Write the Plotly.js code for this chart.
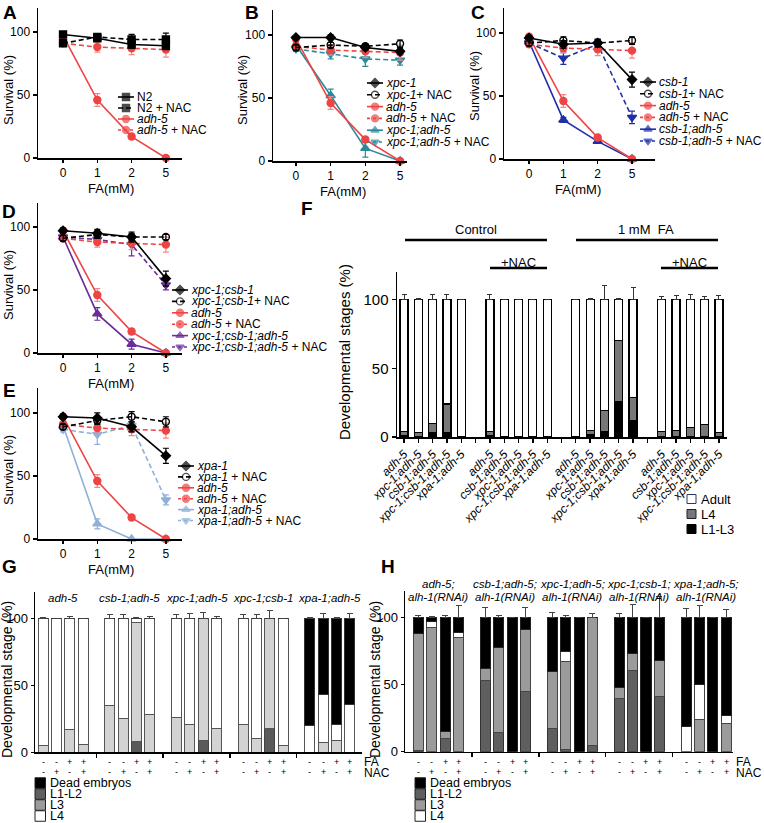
<!DOCTYPE html>
<html><head><meta charset="utf-8">
<script src="https://cdn.plot.ly/plotly-3.0.1.min.js"></script>
<style>html,body{margin:0;padding:0;background:#fff}#chart{width:764px;height:823px}</style>
</head><body><div id="chart"></div>
<script>
const W = 764, H = 823;
const FONT = 'Liberation Sans, Arial, Helvetica, sans-serif';

// ================= DATA =================
const FA_MM = ['0', '1', '2', '5'];
const ADH5 = [97, 46, 17, 0];
const ADH5_ERR = [2, 5, 2, 0];
const ADH5_NAC = [91, 88, 87, 86];
const ADH5_NAC_ERR = [2, 4, 5, 6];

const A_N2 = [98, 95, 90, 89];
const A_N2_ERR = [1, 2, 3, 3];
const A_N2_NAC = [91, 96, 94, 94];
const A_N2_NAC_ERR = [2, 2, 4, 5];

const B_XPC1 = [98, 98, 90, 87];
const B_XPC1_ERR = [1, 2, 2, 2];
const B_XPC1_NAC = [90, 92, 91, 93];
const B_XPC1_NAC_ERR = [2, 2, 2, 3];
const B_XPC1_ADH5 = [92, 52, 10, 0];
const B_XPC1_ADH5_ERR = [2, 5, 7, 0];
const B_XPC1_ADH5_NAC = [89, 85, 81, 80];
const B_XPC1_ADH5_NAC_ERR = [2, 4, 6, 4];

const C_CSB1 = [96, 91, 92, 63];
const C_CSB1_ERR = [2, 3, 3, 6];
const C_CSB1_NAC = [92, 94, 92, 94];
const C_CSB1_NAC_ERR = [2, 3, 3, 3];
const C_CSB1_ADH5 = [93, 31, 14, 0];
const C_CSB1_ADH5_ERR = [2, 2, 1, 0];
const C_CSB1_ADH5_NAC = [92, 80, 91, 33];
const C_CSB1_ADH5_NAC_ERR = [2, 5, 4, 5];

const D_XPC1_CSB1 = [97, 95, 92, 59];
const D_XPC1_CSB1_ERR = [2, 3, 4, 6];
const D_XPC1_CSB1_NAC = [91, 94, 92, 92];
const D_XPC1_CSB1_NAC_ERR = [2, 3, 3, 2];
const D_TRIPLE = [92, 31, 7, 0];
const D_TRIPLE_ERR = [2, 5, 4, 0];
const D_TRIPLE_NAC = [92, 90, 86, 54];
const D_TRIPLE_NAC_ERR = [2, 3, 9, 4];

const E_XPA1 = [97, 96, 89, 66];
const E_XPA1_ERR = [2, 4, 4, 6];
const E_XPA1_NAC = [89, 94, 97, 93];
const E_XPA1_NAC_ERR = [2, 3, 4, 4];
const E_XPA1_ADH5 = [90, 12, 0, 0];
const E_XPA1_ADH5_ERR = [2, 4, 0, 0];
const E_XPA1_ADH5_NAC = [87, 83, 90, 31];
const E_XPA1_ADH5_NAC_ERR = [2, 8, 5, 4];

// Panel F (4 groups of 5 strains)
const F_STRAINS = [
  'adh-5', 'xpc-1;adh-5', 'csb-1;adh-5', 'xpc-1;csb-1;adh-5', 'xpa-1;adh-5',
  'adh-5', 'csb-1;adh-5', 'xpc-1;adh-5', 'xpc-1;csb-1;adh-5', 'xpa-1;adh-5',
  'adh-5', 'xpc-1;adh-5', 'csb-1;adh-5', 'xpc-1;csb-1;adh-5', 'xpa-1;adh-5',
  'adh-5', 'csb-1;adh-5', 'xpc-1;adh-5', 'xpc-1;csb-1;adh-5', 'xpa-1;adh-5'];
const F_L1L3 = [1, 0.5, 3, 3, 0, 1, 0, 0, 0, 0, 0, 2, 4, 26, 12, 0.5, 0.5, 0.5, 0.5, 0.5];
const F_L1L3_ERR = [0, 0, 1, 1, 0, 0, 0, 0, 0, 0, 0, 0, 4, 6, 3, 0, 0, 0, 0, 0];
const F_L4 = [3, 2.5, 7, 21, 0, 3, 0, 0, 0, 0, 0, 3, 15, 44, 17, 3.5, 4.5, 6.5, 8.5, 3];
const F_L4_ERR = [5.5, 2, 5, 6.5, 0, 5.5, 0, 0, 0, 0, 0, 1, 13, 10, 10, 5, 5.5, 7.6, 3.4, 5.5];
const F_ADULT = [96, 97, 90, 76, 100, 96, 100, 100, 100, 100, 100, 95, 81, 30, 71, 96, 95, 93, 91, 96.5];
const F_ADULT_ERR = [4, 0.5, 3.5, 4, 0, 4, 0, 0, 0, 0, 0, 0.5, 10, 1, 9, 2.5, 3, 4, 2, 3];

// Panel G (5 strains x 4 conditions)
const G_STRAINS = ['adh-5', 'csb-1;adh-5', 'xpc-1;adh-5', 'xpc-1;csb-1', 'xpa-1;adh-5'];
const FA_SIGNS = ['-', '-', '+', '+'];
const NAC_SIGNS = ['-', '+', '-', '+'];
const G_L1L2 = [0, 0, 0, 0, 0, 0, 8, 0, 0, 0, 9, 0, 0, 0, 18, 0, 0, 0, 0, 0];
const G_L1L2_ERR = [0, 0, 0, 0, 0, 0, 2, 0, 0, 0, 2.5, 0, 0, 0, 3.5, 0, 0, 0, 0, 0];
const G_L3 = [5, 0, 17, 6, 35, 25, 89, 28, 26, 21, 91, 18, 21, 10, 82, 5, 0, 7, 9, 0];
const G_L3_ERR = [2, 0, 4, 1.5, 5, 5, 0, 3, 4, 7, 0, 3, 5, 5, 0, 1, 0, 7, 3, 0];
const G_L4 = [95, 100, 83, 94, 65, 75, 3, 72, 74, 79, 0, 82, 79, 90, 0, 95, 20, 36, 12, 36];
const G_DEAD = [0, 0, 0, 0, 0, 0, 0, 0, 0, 0, 0, 0, 0, 0, 0, 0, 80, 57, 79, 64];
const G_TOP_ERR = [1, 0, 2, 0.5, 3, 3, 1, 2, 3, 4, 5, 2, 3, 3.5, 6, 0.5, 1, 4, 1, 4];

// Panel H
const H_STRAINS = [['adh-5;', 'alh-1(RNAi)'], ['csb-1;adh-5;', 'alh-1(RNAi)'], ['xpc-1;adh-5;', 'alh-1(RNAi)'],
                   ['xpc-1;csb-1;', 'alh-1(RNAi)'], ['xpa-1;adh-5;', 'alh-1(RNAi)']];
const H_L1L2 = [1, 0, 10, 0, 53, 14, 0, 45, 17, 2, 0, 5, 40, 61, 0, 41, 0, 0, 0, 0];
const H_L1L2_ERR = [2, 0, 3.5, 0, 8, 2.5, 0, 3.5, 5, 2.5, 0, 3, 2.5, 5, 0, 12, 0, 0, 0, 0];
const H_L3 = [87, 93, 5, 85, 9, 64, 0, 46, 43, 65, 0, 95, 8, 12, 0, 27, 0, 24, 0, 21];
const H_L3_ERR = [0, 0, 2, 0, 0, 0, 0, 0, 0, 3.5, 0, 0, 0, 0, 0, 0, 0, 5.5, 0, 5];
const H_L4 = [0, 4, 0, 4, 0, 0, 0, 0, 0, 8, 0, 0, 0, 0, 0, 0, 19, 26, 0, 6];
const H_DEAD = [12, 3, 85, 11, 38, 22, 100, 9, 40, 25, 100, 0, 52, 27, 100, 32, 81, 50, 100, 73];
const H_TOP_ERR = [1.5, 1, 1.5, 9, 8, 2, 0, 8, 4, 2, 0, 3, 3, 10, 0, 16, 7, 9, 0, 6];

// ================= STYLES =================
const BLACK = '#000000', RED = '#ee4444', RED_ERR = '#f08a8a';
const TEAL = '#2a8a9a', BLUE = '#1f2fa8', PURPLE = '#6a2c9c', LBLUE = '#8fb0d8';
const DASH = '5px,3px';

const PANELS = [
  {ax: '', legend: {x0: 118, x1: 134, y0: 97, dy: 11}, series: [
    {y: A_N2, err: A_N2_ERR, name: 'N2', color: BLACK, dash: 'solid', symbol: 'square'},
    {y: A_N2_NAC, err: A_N2_NAC_ERR, name: 'N2 + NAC', color: BLACK, dash: DASH, symbol: 'square'},
    {y: ADH5, err: ADH5_ERR, name: '<i>adh-5</i>', color: RED, ec: RED_ERR, dash: 'solid', symbol: 'circle'},
    {y: ADH5_NAC, err: ADH5_NAC_ERR, name: '<i>adh-5</i> + NAC', color: RED, ec: RED_ERR, dash: DASH, ldash: 'dot', symbol: 'circle'}]},
  {ax: '2', legend: {x0: 367, x1: 383, y0: 83, dy: 11.8}, series: [
    {y: B_XPC1, err: B_XPC1_ERR, name: '<i>xpc-1</i>', color: BLACK, dash: 'solid', symbol: 'diamond'},
    {y: B_XPC1_NAC, err: B_XPC1_NAC_ERR, name: '<i>xpc-1</i>+ NAC', color: BLACK, dash: DASH, symbol: 'circle-open'},
    {y: ADH5, err: ADH5_ERR, name: '<i>adh-5</i>', color: RED, ec: RED_ERR, dash: 'solid', symbol: 'circle'},
    {y: ADH5_NAC, err: ADH5_NAC_ERR, name: '<i>adh-5</i> + NAC', color: RED, ec: RED_ERR, dash: DASH, ldash: 'dot', symbol: 'circle'},
    {y: B_XPC1_ADH5, err: B_XPC1_ADH5_ERR, name: '<i>xpc-1;adh-5</i>', color: TEAL, dash: 'solid', symbol: 'triangle-up'},
    {y: B_XPC1_ADH5_NAC, err: B_XPC1_ADH5_NAC_ERR, name: '<i>xpc-1;adh-5</i> + NAC', color: TEAL, dash: DASH, ldash: 'dot', symbol: 'triangle-down'}]},
  {ax: '3', legend: {x0: 640, x1: 656, y0: 82, dy: 11.8}, series: [
    {y: C_CSB1, err: C_CSB1_ERR, name: '<i>csb-1</i>', color: BLACK, dash: 'solid', symbol: 'diamond'},
    {y: C_CSB1_NAC, err: C_CSB1_NAC_ERR, name: '<i>csb-1</i>+ NAC', color: BLACK, dash: DASH, symbol: 'circle-open'},
    {y: ADH5, err: ADH5_ERR, name: '<i>adh-5</i>', color: RED, ec: RED_ERR, dash: 'solid', symbol: 'circle'},
    {y: ADH5_NAC, err: ADH5_NAC_ERR, name: '<i>adh-5</i> + NAC', color: RED, ec: RED_ERR, dash: DASH, ldash: 'dot', symbol: 'circle'},
    {y: C_CSB1_ADH5, err: C_CSB1_ADH5_ERR, name: '<i>csb-1;adh-5</i>', color: BLUE, dash: 'solid', symbol: 'triangle-up'},
    {y: C_CSB1_ADH5_NAC, err: C_CSB1_ADH5_NAC_ERR, name: '<i>csb-1;adh-5</i> + NAC', color: BLUE, dash: DASH, ldash: 'dot', symbol: 'triangle-down'}]},
  {ax: '4', legend: {x0: 172, x1: 188, y0: 290, dy: 11.4}, series: [
    {y: D_XPC1_CSB1, err: D_XPC1_CSB1_ERR, name: '<i>xpc-1;csb-1</i>', color: BLACK, dash: 'solid', symbol: 'diamond'},
    {y: D_XPC1_CSB1_NAC, err: D_XPC1_CSB1_NAC_ERR, name: '<i>xpc-1;csb-1</i>+ NAC', color: BLACK, dash: DASH, symbol: 'circle-open'},
    {y: ADH5, err: ADH5_ERR, name: '<i>adh-5</i>', color: RED, ec: RED_ERR, dash: 'solid', symbol: 'circle'},
    {y: ADH5_NAC, err: ADH5_NAC_ERR, name: '<i>adh-5</i> + NAC', color: RED, ec: RED_ERR, dash: DASH, ldash: 'dot', symbol: 'circle'},
    {y: D_TRIPLE, err: D_TRIPLE_ERR, name: '<i>xpc-1;csb-1;adh-5</i>', color: PURPLE, dash: 'solid', symbol: 'triangle-up'},
    {y: D_TRIPLE_NAC, err: D_TRIPLE_NAC_ERR, name: '<i>xpc-1;csb-1;adh-5</i> + NAC', color: PURPLE, dash: DASH, ldash: 'dot', symbol: 'triangle-down'}]},
  {ax: '5', legend: {x0: 178, x1: 194, y0: 466, dy: 10.9}, series: [
    {y: E_XPA1, err: E_XPA1_ERR, name: '<i>xpa-1</i>', color: BLACK, dash: 'solid', symbol: 'diamond'},
    {y: E_XPA1_NAC, err: E_XPA1_NAC_ERR, name: '<i>xpa-1</i> + NAC', color: BLACK, dash: DASH, symbol: 'circle-open'},
    {y: ADH5, err: ADH5_ERR, name: '<i>adh-5</i>', color: RED, ec: RED_ERR, dash: 'solid', symbol: 'circle'},
    {y: ADH5_NAC, err: ADH5_NAC_ERR, name: '<i>adh-5</i> + NAC', color: RED, ec: RED_ERR, dash: DASH, ldash: 'dot', symbol: 'circle'},
    {y: E_XPA1_ADH5, err: E_XPA1_ADH5_ERR, name: '<i>xpa-1;adh-5</i>', color: LBLUE, dash: 'solid', symbol: 'triangle-up'},
    {y: E_XPA1_ADH5_NAC, err: E_XPA1_ADH5_NAC_ERR, name: '<i>xpa-1;adh-5</i> + NAC', color: LBLUE, dash: DASH, ldash: 'dot', symbol: 'triangle-down'}]}
];

// ================= LAYOUT HELPERS =================
const traces = [];
const annotations = [];
const shapes = [];
const dX = (a, b) => [a / W, b / W];
const dY = (top, bottom) => [1 - bottom / H, 1 - top / H];

function txt(x, y, text, size, extra) {
  annotations.push(Object.assign({xref: 'x9', yref: 'y9', x: x, y: y, text: text, showarrow: false,
    xanchor: 'center', yanchor: 'middle', font: {family: FONT, size: size || 12, color: '#000'}}, extra || {}));
}
function hline(x0, x1, y, w) {
  shapes.push({type: 'line', xref: 'x9', yref: 'y9', x0: x0, x1: x1, y0: y, y1: y, line: {color: '#000', width: w || 2.5}});
}
function square(x0, y0, s, fill, lc) {
  shapes.push({type: 'rect', xref: 'x9', yref: 'y9', x0: x0, x1: x0 + s, y0: y0 - s / 2, y1: y0 + s / 2,
    fillcolor: fill, line: {color: lc || '#222', width: 1}});
}
const nz = arr => arr.map(v => (v ? v : NaN));

const baseAxis = {showline: true, linecolor: '#000', linewidth: 1.5, ticks: 'outside', tickcolor: '#000',
  tickwidth: 1.3, showgrid: false, zeroline: false, fixedrange: true};

const layout = {
  width: W, height: H, margin: {l: 0, r: 0, t: 0, b: 0},
  paper_bgcolor: '#ffffff', plot_bgcolor: 'rgba(0,0,0,0)',
  barmode: 'stack', bargap: 0, showlegend: false,
  font: {family: FONT, size: 12, color: '#000'}
};

// Line-plot panels geometry
const LINE_GEOM = {
  '':  {x: [38, 182], xr: [-0.73, 3.47], y: [8, 158], yr: [0, 119]},
  '2': {x: [273, 407], xr: [-0.66, 3.2], y: [10, 161], yr: [0, 119.8]},
  '3': {x: [504, 655], xr: [-0.73, 3.67], y: [8, 159], yr: [0, 119.8]},
  '4': {x: [38, 182], xr: [-0.73, 3.47], y: [203, 353], yr: [0, 119]},
  '5': {x: [38, 182], xr: [-0.73, 3.47], y: [388, 539], yr: [0, 119.8]}
};

PANELS.forEach(p => {
  const g = LINE_GEOM[p.ax];
  const xa = 'xaxis' + p.ax, ya = 'yaxis' + p.ax;
  layout[xa] = Object.assign({}, baseAxis, {domain: dX(g.x[0], g.x[1]), range: g.xr, type: 'category',
    anchor: 'y' + p.ax, ticklen: 3, tickfont: {size: 12}, categoryorder: 'array', categoryarray: FA_MM});
  layout[ya] = Object.assign({}, baseAxis, {domain: dY(g.y[0], g.y[1]), range: g.yr, anchor: 'x' + p.ax,
    ticklen: 4, tickmode: 'array', tickvals: [0, 50, 100], tickfont: {size: 12}});
  p.series.slice().reverse().forEach(s => {
    traces.push({type: 'scatter', mode: 'lines+markers', x: FA_MM, y: s.y, xaxis: 'x' + p.ax, yaxis: 'y' + p.ax,
      line: {color: s.color, width: 1.6, dash: s.dash},
      marker: {symbol: s.symbol, size: s.symbol.indexOf('triangle') === 0 ? 8 : 7, color: s.color,
        line: {color: s.color, width: 1.4}},
      error_y: {type: 'data', array: nz(s.err), color: s.ec || s.color, thickness: 1.2, width: 3},
      cliponaxis: false, showlegend: false, hoverinfo: 'skip'});
  });
  // legend
  const L = p.legend;
  p.series.forEach((s, i) => {
    const y = L.y0 + i * L.dy;
    traces.push({type: 'scatter', mode: 'lines+markers', x: [L.x0, (L.x0 + L.x1) / 2, L.x1], y: [y, y, y],
      xaxis: 'x9', yaxis: 'y9', line: {color: s.color, width: 1.6, dash: s.ldash || s.dash},
      marker: {symbol: s.symbol, size: [0, 7, 0], color: s.color, line: {color: s.color, width: 1.4}},
      cliponaxis: false, showlegend: false, hoverinfo: 'skip'});
    txt(L.x1 + 1, y, s.name, 12, {xanchor: 'left'});
  });
});

// line panel titles
[[8, 90], [242, 90], [474, 86], [8, 285], [8, 470]].forEach(c =>
  txt(c[0], c[1], 'Survival (%)', 13, {textangle: -90}));
[[111, 188], [343, 191], [578, 189], [111, 383], [111, 569]].forEach(c => txt(c[0], c[1], 'FA(mM)', 13));

// ================= PANEL F =================
const fPos = F_STRAINS.map((_, i) => i + Math.floor(i / 5));
const fTickVals = [], fTickText = [];
for (let v = 0; v <= 22; v++) {
  fTickVals.push(v);
  const k = fPos.indexOf(v);
  fTickText.push(k >= 0 ? '<i>' + F_STRAINS[k] + '</i>' : '');
}
layout.xaxis6 = Object.assign({}, baseAxis, {domain: dX(397, 727), range: [-0.49, 22.56], anchor: 'y6',
  tickmode: 'array', tickvals: fTickVals, ticktext: fTickText, ticklen: 4, tickangle: -45, tickfont: {size: 12}});
layout.yaxis6 = Object.assign({}, baseAxis, {domain: dY(272, 437), range: [0, 120], anchor: 'x6',
  tickmode: 'array', tickvals: [0, 50, 100], ticklen: 4, tickfont: {size: 15}});
function fBar(y, err, color) {
  return {type: 'bar', x: fPos, y: y, xaxis: 'x6', yaxis: 'y6', width: 0.56,
    marker: {color: color, line: {color: '#000', width: 1.2}},
    error_y: {type: 'data', array: nz(err), arrayminus: y.map(() => 0), symmetric: false, color: '#333', thickness: 1, width: 2.5},
    showlegend: false, hoverinfo: 'skip'};
}
traces.push(fBar(F_L1L3, F_L1L3_ERR, '#000000'));
traces.push(fBar(F_L4, F_L4_ERR, '#777777'));
traces.push(fBar(F_ADULT, F_ADULT_ERR, '#ffffff'));
txt(344, 352, 'Developmental stages (%)', 15, {textangle: -90});
txt(476, 229, 'Control', 13); hline(405, 547, 240);
txt(646, 229, '1 mM  FA', 13); hline(576, 718, 240);
txt(518, 262, '+NAC', 13); hline(490, 547, 268);
txt(689, 262, '+NAC', 13); hline(661, 718, 268);
[['Adult', '#ffffff', '#2a3a5a'], ['L4', '#777777', '#222'], ['L1-L3', '#000000', '#000']].forEach((e, i) => {
  const y = 499 + i * 15;
  square(687, y, 9, e[1], e[2]);
  txt(699, y, e[0], 13, {xanchor: 'left'});
});

// ================= PANELS G & H =================
const gPos = G_L3.map((_, i) => i + Math.floor(i / 4));
function stackBar(ax, y, err, color, lc) {
  return {type: 'bar', x: gPos, y: y, xaxis: 'x' + ax, yaxis: 'y' + ax, width: 0.75,
    marker: {color: color, line: {color: lc, width: 1}},
    error_y: {type: 'data', array: nz(err), arrayminus: y.map(() => 0), symmetric: false, color: '#444', thickness: 1, width: 3},
    showlegend: false, hoverinfo: 'skip'};
}
const GAP_TICKS = [4, 9, 14, 19];
function stageAxes(ax, xd, xr, yd) {
  layout['xaxis' + ax] = Object.assign({}, baseAxis, {domain: dX(xd[0], xd[1]), range: xr, anchor: 'y' + ax,
    tickmode: 'array', tickvals: GAP_TICKS, showticklabels: false, ticklen: 4});
  layout['yaxis' + ax] = Object.assign({}, baseAxis, {domain: dY(yd[0], yd[1]), range: [0, 120], anchor: 'x' + ax,
    tickmode: 'array', tickvals: [0, 50, 100], ticklen: 3, tickfont: {size: 13}});
}
stageAxes('7', [35, 362], [-0.6, 23.9], [592, 752.3]);
stageAxes('8', [405, 733], [-1, 23.5], [591, 751.7]);

traces.push(stackBar('7', G_L1L2, G_L1L2_ERR, '#5a5a5a', '#444'));
traces.push(stackBar('7', G_L3, G_L3_ERR, '#d3d3d3', '#555'));
traces.push(stackBar('7', G_L4, [], '#ffffff', '#555'));
traces.push(stackBar('7', G_DEAD, G_TOP_ERR, '#000000', '#333'));

traces.push(stackBar('8', H_L1L2, H_L1L2_ERR, '#5f5f5f', '#333'));
traces.push(stackBar('8', H_L3, H_L3_ERR, '#9b9b9b', '#444'));
traces.push(stackBar('8', H_L4, [], '#ffffff', '#444'));
traces.push(stackBar('8', H_DEAD, H_TOP_ERR, '#000000', '#222'));

// group titles, +/- rows
G_STRAINS.forEach((s, k) => {
  annotations.push({xref: 'x7', yref: 'y9', x: k * 5 + 1.5, y: 598, text: '<i>' + s + '</i>', showarrow: false,
    font: {family: FONT, size: 11.5, color: '#000'}});
});
H_STRAINS.forEach((s, k) => {
  s.forEach((line, j) => annotations.push({xref: 'x8', yref: 'y9', x: k * 5 + 1.5, y: 584 + j * 12.5,
    text: '<i>' + line + '</i>', showarrow: false, font: {family: FONT, size: 11.5, color: '#000'}}));
});
['7', '8'].forEach(ax => {
  gPos.forEach((x, i) => {
    annotations.push({xref: 'x' + ax, yref: 'y9', x: x, y: 762, text: FA_SIGNS[i % 4], showarrow: false,
      font: {family: FONT, size: 9, color: '#000'}});
    annotations.push({xref: 'x' + ax, yref: 'y9', x: x, y: 772, text: NAC_SIGNS[i % 4], showarrow: false,
      font: {family: FONT, size: 9, color: '#000'}});
  });
});
txt(362, 762, 'FA', 12, {xanchor: 'left'}); txt(362, 773, 'NAC', 12, {xanchor: 'left'});
txt(734, 762, 'FA', 12, {xanchor: 'left'}); txt(734, 773, 'NAC', 12, {xanchor: 'left'});
txt(7, 680, 'Developmental stage (%)', 14, {textangle: -90});
txt(375, 680, 'Developmental stage (%)', 14, {textangle: -90});

const STAGE_LEGEND = [['Dead embryos', '#000000'], ['L1-L2', '#5f5f5f'], ['L3', '#9b9b9b'], ['L4', '#ffffff']];
[[35, 783], [415, 783]].forEach(o => {
  STAGE_LEGEND.forEach((e, i) => {
    const y = o[1] + i * 11;
    square(o[0], y, 10.5, e[1], '#222');
    txt(o[0] + 12.5, y, e[0], 12.5, {xanchor: 'left'});
  });
});

// panel letters
[['A', 10, 12], ['B', 252, 12], ['C', 478, 12], ['D', 9, 211], ['E', 9, 390], ['F', 307, 208],
 ['G', 9, 566], ['H', 388, 566]].forEach(l => txt(l[1], l[2], '<b>' + l[0] + '</b>', 19));

// overlay pixel axis
layout.xaxis9 = {domain: [0, 1], range: [0, W], visible: false, anchor: 'y9', fixedrange: true, showgrid: false, zeroline: false};
layout.yaxis9 = {domain: [0, 1], range: [H, 0], visible: false, anchor: 'x9', fixedrange: true, showgrid: false, zeroline: false};
layout.annotations = annotations;
layout.shapes = shapes;

Plotly.newPlot('chart', traces, layout, {staticPlot: true, displayModeBar: false});
</script></body></html>
